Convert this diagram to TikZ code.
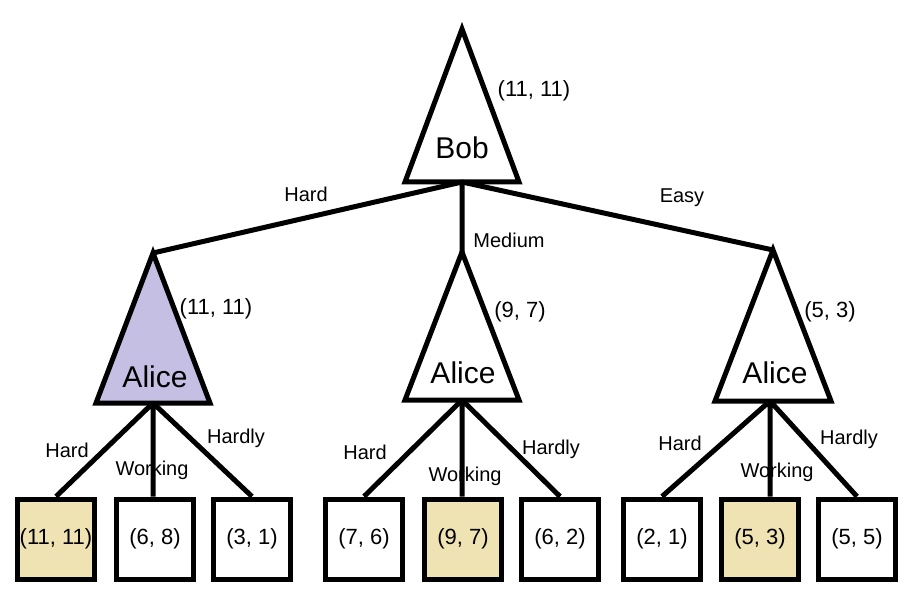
\documentclass[tikz,border=0pt]{standalone}
\usepackage{fontspec}
\setmainfont{Liberation Sans}
\usetikzlibrary{calc}
\definecolor{lavender}{HTML}{C6BFE4}
\definecolor{wheat}{HTML}{EFE3B3}
\begin{document}
\begin{tikzpicture}[x=1pt,y=-1pt,line width=5pt,
    player/.style={font=\fontsize{30}{34}\selectfont},
    payoff/.style={font=\fontsize{22}{26}\selectfont},
    move/.style={font=\fontsize{20}{24}\selectfont},
    leaf/.style={draw,fill=white,minimum width=77pt,minimum height=80pt,inner sep=0pt,font=\fontsize{22}{26}\selectfont},
    best/.style={leaf,fill=wheat}]
    \useasboundingbox (0,0) rectangle (920,601);
    % triangles
    \coordinate (bobtop) at (462,29);   \coordinate (bobbase) at (462,182);
    \coordinate (a1top) at (153,253);   \coordinate (a1base) at (153,403);
    \coordinate (a2top) at (462,252);   \coordinate (a2base) at (462,400);
    \coordinate (a3top) at (773,250);   \coordinate (a3base) at (770,401);
    \draw (bobtop) -- ($(bobbase)+(-57,0)$) -- ($(bobbase)+(57,0)$) -- cycle;
    \draw[fill=lavender] (a1top) -- ($(a1base)+(-57,0)$) -- ($(a1base)+(57,0)$) -- cycle;
    \draw (a2top) -- ($(a2base)+(-57,0)$) -- ($(a2base)+(57,0)$) -- cycle;
    \draw (a3top) -- ($(a3base)+(-55,0)$) -- ($(a3base)+(61,0)$) -- cycle;
    \node[player] (bob) at (462,148) {Bob};
    \node[player] (alice1) at (155,377) {Alice};
    \node[player] (alice2) at (463,373) {Alice};
    \node[player] (alice3) at (775,373) {Alice};
    \node[payoff] (vbob) at (534,91) {(11, 11)};
    \node[payoff] (v1) at (216,309) {(11, 11)};
    \node[payoff] (v2) at (520,312) {(9, 7)};
    \node[payoff] (v3) at (830,312) {(5, 3)};
    % first level
    \draw (bobbase) -- (a1top) (bobbase) -- (a2top) (bobbase) -- (a3top);
    \node[move] (mhard) at (306,194) {Hard};
    \node[move] (mmed) at (509,240) {Medium};
    \node[move] (measy) at (682,198) {Easy};
    % leaves
    \node[best] (l11) at (56,539) {(11, 11)};
    \node[leaf] (l12) at (155,539) {(6, 8)};
    \node[leaf] (l13) at (252,539) {(3, 1)};
    \node[leaf] (l21) at (364,539) {(7, 6)};
    \node[best] (l22) at (463,539) {(9, 7)};
    \node[leaf] (l23) at (560,539) {(6, 2)};
    \node[leaf] (l31) at (662,539) {(2, 1)};
    \node[best] (l32) at (760,539) {(5, 3)};
    \node[leaf] (l33) at (857,539) {(5, 5)};
    \foreach \g in {1,2,3}
        \draw (a\g base) -- (l\g1.north) (a\g base) -- (a\g base |- l\g2.north) (a\g base) -- (l\g3.north);
    \node[move] (h1) at (67,450) {Hard};
    \node[move] (w1) at (152,470) {Working};
    \node[move] (d1) at (236,438) {Hardly};
    \node[move] (h2) at (365,452) {Hard};
    \node[move] (w2) at (465,476) {Working};
    \node[move] (d2) at (551,449) {Hardly};
    \node[move] (h3) at (680,443) {Hard};
    \node[move] (w3) at (777,472) {Working};
    \node[move] (d3) at (849,439) {Hardly};
\end{tikzpicture}
\end{document}
